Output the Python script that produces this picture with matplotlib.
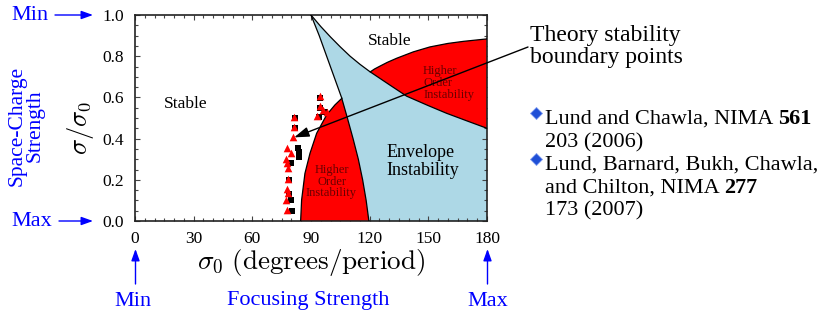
import matplotlib
matplotlib.use("Agg")
import matplotlib.pyplot as plt
import numpy as np
from matplotlib.ticker import MultipleLocator

plt.rcParams['mathtext.fontset'] = 'cm'
SERIF = ['Liberation Serif', 'DejaVu Serif']

# ---------------- data ----------------
# Envelope band: left boundary (sigma0 vs sigma/sigma0)
env_left_x = [90.0, 94.2, 98.0, 101.8, 105.6, 108.6, 111.5, 114.2, 116.4, 118.2, 119.6]
env_left_y = [1.0, 0.9, 0.8, 0.7, 0.6, 0.5, 0.4, 0.3, 0.2, 0.1, 0.0]
# Envelope band: upper boundary
env_top_x = [90.0, 95.0, 100.0, 105.0, 110.0, 115.0, 120.1, 130.0, 138.9, 150.0, 159.3, 170.0, 180.0]
env_top_y = [1.0, 0.944, 0.893, 0.845, 0.800, 0.761, 0.725, 0.662, 0.606, 0.560, 0.523, 0.485, 0.45]
# Upper higher-order band: top boundary
ho_top_x = [120.3, 122.5, 125.5, 129.0, 133.8, 142.3, 150.8, 160.0, 167.9, 180.0]
ho_top_y = [0.724, 0.738, 0.753, 0.770, 0.790, 0.821, 0.845, 0.862, 0.872, 0.884]
# Lower higher-order band: left boundary
ho_low_x = [84.7, 85.2, 86.9, 89.5, 92.9, 98.0, 102.2, 105.8]
ho_low_y = [0.0, 0.102, 0.231, 0.329, 0.426, 0.515, 0.563, 0.596]

# Simulation boundary points
tri_x = [94.4, 94.4, 93.0, 96.3, 98.0, 81.4, 81.4, 80.9, 77.9, 79.8, 77.3, 77.9,
         78.0, 78.4, 77.5, 78.0, 77.1, 77.5]
tri_y = [0.605, 0.557, 0.512, 0.539, 0.530, 0.505, 0.457, 0.406, 0.356, 0.329,
         0.302, 0.280, 0.255, 0.206, 0.155, 0.135, 0.104, 0.054]
sq_x = [94.6, 94.6, 93.9, 97.3, 81.6, 81.6, 83.5, 83.7, 83.9, 79.8, 78.6, 79.0,
        79.8, 80.1]
sq_y = [0.598, 0.550, 0.505, 0.527, 0.498, 0.450, 0.355, 0.333, 0.310, 0.280,
        0.200, 0.130, 0.102, 0.050]

x_ticks = [0, 30, 60, 90, 120, 150, 180]
y_ticks = [0.0, 0.2, 0.4, 0.6, 0.8, 1.0]

# ---------------- figure ----------------
W, H = 824, 314
fig = plt.figure(figsize=(W / 100, H / 100), dpi=100)
ax = fig.add_axes([135 / W, 1 - 221 / H, 352 / W, 206 / H])
ax.set_xlim(0, 180)
ax.set_ylim(0, 1)

blue = '#add8e6'
red = '#ff0000'

# envelope band polygon
bx = env_top_x + [180.0, 180.0] + env_left_x[::-1]
by = env_top_y + [0.45, 0.0] + env_left_y[::-1]
ax.fill(bx, by, facecolor=blue, edgecolor='none', zorder=1)

# upper higher-order band: between env top and ho top
i0 = 6
ux = ho_top_x + env_top_x[::-1][:-i0]
uy = ho_top_y + env_top_y[::-1][:-i0]
ax.fill(ux, uy, facecolor=red, edgecolor='none', zorder=2)

# lower higher-order band: between ho_low left and env left
lx = ho_low_x + env_left_x[5:]
ly = ho_low_y + env_left_y[5:]
ax.fill(lx, ly, facecolor=red, edgecolor='none', zorder=2)

# boundary lines
lw = 0.9
ax.plot(env_left_x, env_left_y, color='black', lw=lw, zorder=3)
ax.plot(env_top_x, env_top_y, color='black', lw=lw, zorder=3)
ax.plot(ho_top_x, ho_top_y, color='black', lw=lw, zorder=3)
ax.plot(ho_low_x, ho_low_y, color='black', lw=lw, zorder=3)

# points
ax.scatter(sq_x, sq_y, marker='s', s=22, color='black', zorder=4, linewidths=0)
ax.scatter(tri_x, tri_y, marker='^', s=30, color=red, zorder=5, linewidths=0)

# region labels
ax.text(26, 0.57, 'Stable', fontsize=12.5, family=SERIF, ha='center', va='center', zorder=6)
ax.text(130, 0.875, 'Stable', fontsize=12.5, family=SERIF, ha='center', va='center', zorder=6)
ax.text(128.5, 0.29, 'Envelope\nInstability', fontsize=13, family=SERIF, ha='left',
        va='center', linespacing=1.05, zorder=6)
ax.text(100.5, 0.19, 'Higher\nOrder\nInstability', fontsize=9, family=SERIF, ha='center',
        va='center', color='#6a0000', linespacing=0.95, zorder=6)
ax.text(147.3, 0.67, 'Higher\nOrder\nInstability', fontsize=9, family=SERIF, ha='left',
        va='center', color='#6a0000', linespacing=0.95, zorder=6)

# ticks
ax.set_xticks(x_ticks)
ax.set_yticks(y_ticks)
ax.set_yticklabels([f'{v:.1f}' for v in y_ticks])
ax.xaxis.set_minor_locator(MultipleLocator(5))
ax.yaxis.set_minor_locator(MultipleLocator(0.05))
ax.tick_params(which='both', direction='in', top=True, right=True, color='#444444', width=0.8)
ax.tick_params(which='major', length=3.5)
ax.tick_params(which='minor', length=2.5)
ax.tick_params(axis='x', which='major', pad=7, labelsize=12.5)
ax.tick_params(axis='y', which='major', pad=8, labelsize=12.5)
for lab in ax.get_xticklabels() + ax.get_yticklabels():
    lab.set_family(SERIF)
for sp in ax.spines.values():
    sp.set_linewidth(1.2)
    sp.set_color('#222222')

# axis labels
fig.text(311 / W, 1 - 262 / H, r'$\sigma_0\ \mathrm{(degrees/period)}$', fontsize=19.5,
         ha='center', va='center')
fig.text(81 / W, 1 - 128 / H, r'$\sigma/\sigma_0$', fontsize=19, rotation=90,
         ha='center', va='center')

# arrow from theory text to points
ax.annotate('', xy=(81.4, 0.406), xycoords='data',
            xytext=(528, H - 47), textcoords='figure pixels',
            arrowprops=dict(arrowstyle='-|>,head_length=0.9,head_width=0.3',
                            color='black', lw=1.0, shrinkA=0, shrinkB=0),
            annotation_clip=False, zorder=7)

fig.text(530 / W, 1 - 41 / H, 'Theory stability', fontsize=17, family=SERIF,
         ha='left', va='baseline')
fig.text(530 / W, 1 - 63.5 / H, 'boundary points', fontsize=17, family=SERIF,
         ha='left', va='baseline')

# reference list
renderer = fig.canvas.get_renderer()
ref_lines = [
    ('Lund and Chawla, NIMA ', '561', 124),
    ('203 (2006)', '', 147),
    ('Lund, Barnard, Bukh, Chawla,', '', 170),
    ('and Chilton, NIMA ', '277', 193),
    ('173 (2007)', '', 215),
]
fs_ref = 16
for normal, bold, yb in ref_lines:
    t = fig.text(545 / W, 1 - yb / H, normal, fontsize=fs_ref, family=SERIF,
                 ha='left', va='baseline')
    if bold:
        bb = t.get_window_extent(renderer=renderer)
        fig.text(bb.x1 / W, 1 - yb / H, bold, fontsize=fs_ref, family=SERIF,
                 weight='bold', ha='left', va='baseline')
for yb in [124, 170]:
    fig.lines.append(plt.Line2D([536 / W], [1 - (yb - 11) / H], marker='D', markersize=6,
                                color='#1f4fd6', markeredgecolor='#7f9cf0', markeredgewidth=0.6,
                                transform=fig.transFigure))

# blue annotations
blue_t = '#0000ff'
fs_b = 16
fig.text(30 / W, 1 - 15 / H, 'Min', fontsize=fs_b, family=SERIF, color=blue_t, ha='center', va='center')
fig.text(32 / W, 1 - 221 / H, 'Max', fontsize=fs_b, family=SERIF, color=blue_t, ha='center', va='center')
fig.text(26 / W, 1 - 126 / H, 'Space-Charge\nStrength', fontsize=15.5, family=SERIF, color=blue_t,
         ha='center', va='center', rotation=90, linespacing=0.95)
fig.text(133 / W, 1 - 301 / H, 'Min', fontsize=fs_b, family=SERIF, color=blue_t, ha='center', va='center')
fig.text(308 / W, 1 - 301 / H, 'Focusing Strength', fontsize=fs_b, family=SERIF, color=blue_t,
         ha='center', va='center')
fig.text(488 / W, 1 - 301 / H, 'Max', fontsize=fs_b, family=SERIF, color=blue_t, ha='center', va='center')

arrow_kw = dict(arrowstyle='-|>,head_length=0.7,head_width=0.25', color=blue_t, lw=1.0,
                shrinkA=0, shrinkB=0)
for (x0, y0, x1, y1) in [(55, 15, 93, 15), (59, 221, 93, 221),
                         (135.5, 284, 135.5, 249), (487.5, 284, 487.5, 249)]:
    ax.annotate('', xy=(x1, H - y1), xycoords='figure pixels',
                xytext=(x0, H - y0), textcoords='figure pixels',
                arrowprops=arrow_kw, annotation_clip=False)

fig.savefig('out.png', dpi=100)
